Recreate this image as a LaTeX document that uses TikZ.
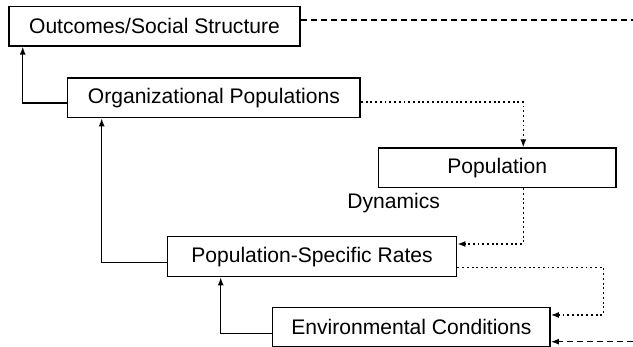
\documentclass[tikz,border=0pt]{standalone}
\usepackage{fontspec}
\setmainfont{Liberation Sans}
\usepackage{tikz}
\usetikzlibrary{positioning, calc, arrows.meta}

\begin{document}
\begin{tikzpicture}[x=0.02cm, y=-0.02cm,
        block/.style={rectangle, draw, line width=0.8pt, inner sep=0pt, minimum height=0.79cm, font=\fontsize{12}{14}\selectfont},
        flow/.style={-{Latex[length=1.6mm, width=1.2mm]}, line width=0.8pt},
        feed/.style={-{Latex[length=1.6mm, width=1.2mm]}, line width=0.8pt, dash pattern=on 1.1pt off 1.6pt},
        rimline/.style={line width=0.8pt, dash pattern=on 3.4pt off 2.3pt}]

        \useasboundingbox (0,0) rectangle (633,347);

        \node[block, minimum width=5.82cm] (outc) at (154.5,26.2) {Outcomes/Social Structure};
        \node[block, minimum width=5.85cm] (org) at (213.9,97.9) {Organizational Populations};
        \node[block, minimum width=4.76cm] (pop) at (497.2,167.8) {Population};
        \node[anchor=base west, inner sep=0pt, font=\fontsize{12}{14}\selectfont] (dyn) at (347,209) {Dynamics};
        \node[block, minimum width=5.79cm, minimum height=0.8cm] (pspec) at (312,256.7) {Population-Specific Rates};
        \node[block, minimum width=5.55cm, minimum height=0.78cm] (env) at (411.4,327) {Environmental Conditions};

        \coordinate (rimA) at (633,20);
        \coordinate (rimB) at (633,341.7);

        % upward influences
        \draw[flow] (org.west |- 0,103) -| (outc.south -| 22.7,0);
        \draw[flow] (pspec.west |- 0,262.7) -| (org.south -| 101.7,0);
        \draw[flow] (env.west |- 0,333.3) -| (pspec.south -| 220.7,0);

        % dotted feedback loops
        \draw[feed] (org.east |- 0,102) -| (pop.north -| 523.3,0);
        \draw[feed] (pop.south -| 523.3,0) |- (pspec.east |- 0,244);
        \draw[feed] (pspec.east |- 0,267.3) -- (603.3,267.3) -- (603.3,315) -- (env.east |- 0,315);

        % dashed return from outcomes
        \draw[rimline] (outc.east |- rimA) -- (rimA);
        \draw[rimline, -{Latex[length=1.6mm, width=1.2mm]}] (rimB) -- (env.east |- rimB);
      \end{tikzpicture}
\end{document}
